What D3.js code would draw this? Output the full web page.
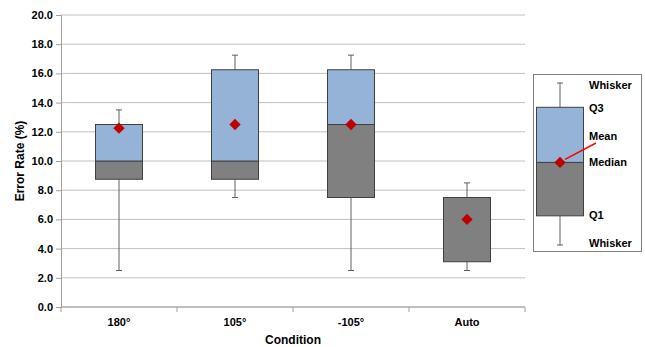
<!DOCTYPE html>
<html>
<head>
<meta charset="utf-8">
<script src="https://cdn.jsdelivr.net/npm/d3@7"></script>
<style>
  body { margin: 0; background: #fff; }
  text { font-family: Arial, "Liberation Sans", sans-serif; font-weight: bold; fill: #000; }
</style>
</head>
<body>
<svg id="chart" width="645" height="347"></svg>
<script>
// Box plot data
const conditions = ['180°', '105°', '-105°', 'Auto'];
const whiskerLow = [2.5, 7.5, 2.5, 2.5];
const q1 = [8.75, 8.75, 7.5, 3.1];
const median = [10.0, 10.0, 12.5, 7.5];
const q3 = [12.5, 16.25, 16.25, 7.5];
const whiskerHigh = [13.5, 17.25, 17.25, 8.5];
const means = [12.25, 12.5, 12.5, 6.0];
const yTicks = [0, 2, 4, 6, 8, 10, 12, 14, 16, 18, 20];

const legendLabels = ['Whisker', 'Q3', 'Mean', 'Median', 'Q1', 'Whisker'];

const BLUE = '#95b3d7', GREY = '#808080', RED = '#c00000', EDGE = '#404040';

const svg = d3.select('#chart');
const plot = { left: 61, right: 525, top: 15, bottom: 307 };

const x = d3.scaleBand().domain(conditions).range([plot.left, plot.right]);
const y = d3.scaleLinear().domain([0, 20]).range([plot.bottom, plot.top]);

// gridlines
svg.append('g').selectAll('line').data(yTicks).join('line')
  .attr('x1', plot.left).attr('x2', plot.right)
  .attr('y1', d => y(d)).attr('y2', d => y(d))
  .attr('stroke', '#c0c0c0').attr('stroke-width', 1);

// y axis
const yAxis = svg.append('g').attr('transform', `translate(${plot.left},0)`)
  .call(d3.axisLeft(y).tickValues(yTicks).tickFormat(d3.format('.1f')).tickSize(5).tickPadding(3));
yAxis.select('.domain').attr('stroke', '#a0a0a0');
yAxis.selectAll('.tick line').attr('stroke', '#a0a0a0');
yAxis.selectAll('text').style('font-size', '11px').style('font-weight', 'bold').attr('fill', '#000');

// x axis (ticks between categories)
const xAxis = svg.append('g').attr('transform', `translate(0,${plot.bottom})`);
xAxis.append('line').attr('x1', plot.left).attr('x2', plot.right)
  .attr('y1', 0).attr('y2', 0).attr('stroke', '#a0a0a0');
xAxis.selectAll('line.tk').data(d3.range(conditions.length + 1)).join('line')
  .attr('class', 'tk')
  .attr('x1', i => plot.left + i * x.step()).attr('x2', i => plot.left + i * x.step())
  .attr('y1', 0).attr('y2', 5).attr('stroke', '#a0a0a0');
xAxis.selectAll('text').data(conditions).join('text')
  .attr('x', d => x(d) + x.bandwidth() / 2).attr('y', 19)
  .attr('text-anchor', 'middle').style('font-size', '11px').text(d => d);

// axis titles
svg.append('text').attr('x', 293).attr('y', 344).attr('text-anchor', 'middle')
  .style('font-size', '12px').text('Condition');
svg.append('text').attr('transform', `translate(24,${(plot.top + plot.bottom) / 2}) rotate(-90)`)
  .attr('text-anchor', 'middle').style('font-size', '12px').text('Error Rate (%)');

// boxes
const boxW = 47;
const rows = conditions.map((c, i) => ({
  c, lo: whiskerLow[i], q1: q1[i], med: median[i], q3: q3[i], hi: whiskerHigh[i], mean: means[i]
}));
const cx = d => x(d.c) + x.bandwidth() / 2;

const boxes = svg.append('g').selectAll('g').data(rows).join('g');
// whiskers
boxes.append('line').attr('x1', cx).attr('x2', cx)
  .attr('y1', d => y(d.lo)).attr('y2', d => y(d.q1)).attr('stroke', '#606060');
boxes.append('line').attr('x1', cx).attr('x2', cx)
  .attr('y1', d => y(d.q3)).attr('y2', d => y(d.hi)).attr('stroke', '#606060');
boxes.append('line').attr('x1', d => cx(d) - 3).attr('x2', d => cx(d) + 3)
  .attr('y1', d => y(d.lo)).attr('y2', d => y(d.lo)).attr('stroke', '#606060');
boxes.append('line').attr('x1', d => cx(d) - 3).attr('x2', d => cx(d) + 3)
  .attr('y1', d => y(d.hi)).attr('y2', d => y(d.hi)).attr('stroke', '#606060');
// lower box (Q1 - median)
boxes.append('rect').attr('x', d => cx(d) - boxW / 2).attr('width', boxW)
  .attr('y', d => y(d.med)).attr('height', d => y(d.q1) - y(d.med))
  .attr('fill', GREY).attr('stroke', EDGE);
// upper box (median - Q3)
boxes.filter(d => d.q3 > d.med).append('rect').attr('x', d => cx(d) - boxW / 2).attr('width', boxW)
  .attr('y', d => y(d.q3)).attr('height', d => y(d.med) - y(d.q3))
  .attr('fill', BLUE).attr('stroke', EDGE);
// mean diamond
boxes.append('path').attr('d', d3.symbol(d3.symbolSquare, 64))
  .attr('transform', d => `translate(${cx(d)},${y(d.mean)}) rotate(45)`)
  .attr('fill', RED);

// legend
const lg = svg.append('g');
lg.append('rect').attr('x', 533.5).attr('y', 74.5).attr('width', 108).attr('height', 177)
  .attr('fill', '#fff').attr('stroke', '#808080');
const ly = d3.scaleLinear().domain([0, 1]).range([245, 83]); // schematic scale
const lcx = 560, lw = 47;
const lsample = { lo: 0, q1: 0.18, med: 0.51, q3: 0.85, hi: 1 };
lg.append('line').attr('x1', lcx).attr('x2', lcx).attr('y1', ly(lsample.lo)).attr('y2', ly(lsample.q1)).attr('stroke', '#606060');
lg.append('line').attr('x1', lcx).attr('x2', lcx).attr('y1', ly(lsample.q3)).attr('y2', ly(lsample.hi)).attr('stroke', '#606060');
[lsample.lo, lsample.hi].forEach(v => lg.append('line').attr('x1', lcx - 3).attr('x2', lcx + 3)
  .attr('y1', ly(v)).attr('y2', ly(v)).attr('stroke', '#606060'));
lg.append('rect').attr('x', lcx - lw / 2).attr('width', lw).attr('y', ly(lsample.med))
  .attr('height', ly(lsample.q1) - ly(lsample.med)).attr('fill', GREY).attr('stroke', EDGE);
lg.append('rect').attr('x', lcx - lw / 2).attr('width', lw).attr('y', ly(lsample.q3))
  .attr('height', ly(lsample.med) - ly(lsample.q3)).attr('fill', BLUE).attr('stroke', EDGE);
lg.append('line').attr('x1', lcx + 5).attr('y1', ly(lsample.med) - 3)
  .attr('x2', 596).attr('y2', 143).attr('stroke', '#ff0000').attr('stroke-width', 1.5);
lg.append('path').attr('d', d3.symbol(d3.symbolSquare, 64))
  .attr('transform', `translate(${lcx},${ly(lsample.med)}) rotate(45)`).attr('fill', RED);
const labelY = [89, 112, 140, 166, 219, 247];
lg.selectAll('text').data(legendLabels).join('text')
  .attr('x', 589).attr('y', (d, i) => labelY[i]).style('font-size', '11px').text(d => d);
</script>
</body>
</html>
